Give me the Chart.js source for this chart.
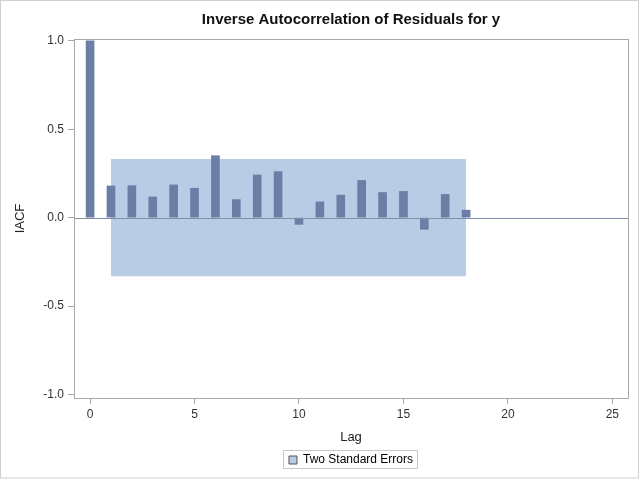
<!DOCTYPE html>
<html>
<head>
<meta charset="utf-8">
<script src="https://cdn.jsdelivr.net/npm/chart.js@4"></script>
<style>
  html, body { margin: 0; padding: 0; background: #fff; }
  #wrap { width: 640px; height: 480px; }
</style>
</head>
<body>
<div id="wrap"><canvas id="iacf-chart" width="640" height="480"></canvas></div>
<script>
// values
var lags = [0, 1, 2, 3, 4, 5, 6, 7, 8, 9, 10, 11, 12, 13, 14, 15, 16, 17, 18];
var iacf = [1.0, 0.179, 0.181, 0.117, 0.185, 0.166, 0.350, 0.102, 0.241, 0.260,
            -0.038, 0.089, 0.127, 0.210, 0.142, 0.148, -0.066, 0.131, 0.042];
var seLags = [1, 18];
var seUpper = [0.332, 0.332];
var seLower = [-0.332, -0.332];
var xTicks = [0, 5, 10, 15, 20, 25];
var yTicks = [-1.0, -0.5, 0.0, 0.5, 1.0];

var font = "'Liberation Sans', Arial, sans-serif";
var barColor = "#6a7ea6";
var bandColor = "#b8cce6";
var frameColor = "#a8a8a8";

var framePlugin = {
  id: 'frame',
  afterDatasetsDraw: function (chart) {
    var ctx = chart.ctx, a = chart.chartArea;
    var y0 = Math.round(chart.scales.y.getPixelForValue(0)) + 0.5;
    ctx.save();
    ctx.strokeStyle = "#8090aa";
    ctx.lineWidth = 1;
    ctx.beginPath();
    ctx.moveTo(a.left, y0);
    ctx.lineTo(a.right, y0);
    ctx.stroke();
    ctx.restore();
  },
  afterDraw: function (chart) {
    var ctx = chart.ctx, a = chart.chartArea;
    ctx.save();
    ctx.lineWidth = 1;
    ctx.strokeStyle = frameColor;
    ctx.strokeRect(Math.round(a.left) + 0.5, Math.round(a.top) + 0.5,
                   Math.round(a.right - a.left), Math.round(a.bottom - a.top));
    // legend border
    var lg = chart.legend;
    if (lg && lg.legendHitBoxes && lg.legendHitBoxes.length) {
      var hb = lg.legendHitBoxes[0];
      ctx.strokeStyle = "#c8c8c8";
      ctx.strokeRect(Math.round(hb.left) - 5.5, Math.round(hb.top) - 3.5,
                     Math.round(hb.width) + 10, Math.round(hb.height) + 6);
    }
    // outer border
    ctx.strokeStyle = "#d0d0d0";
    ctx.strokeRect(0.5, 0.5, 638, 477.5);
    ctx.restore();
  }
};

var ctxEl = document.getElementById("iacf-chart");
var iacfChart = new Chart(ctxEl, {
  type: 'bar',
  data: {
    datasets: [
      {
        type: 'bar',
        label: 'IACF',
        data: lags.map(function (l, i) { return { x: l, y: iacf[i] }; }),
        backgroundColor: barColor,
        borderWidth: 0,
        barThickness: 8,
        order: 1
      },
      {
        type: 'line',
        label: 'Two Standard Errors',
        data: seLags.map(function (l, i) { return { x: l, y: seUpper[i] }; }),
        backgroundColor: bandColor,
        borderWidth: 0,
        pointRadius: 0,
        fill: '+1',
        order: 2
      },
      {
        type: 'line',
        label: 'lower',
        data: seLags.map(function (l, i) { return { x: l, y: seLower[i] }; }),
        backgroundColor: bandColor,
        borderWidth: 0,
        pointRadius: 0,
        fill: false,
        order: 3
      }
    ]
  },
  options: {
    responsive: false,
    animation: false,
    layout: { padding: { left: 0, right: 12, top: 0, bottom: 4 } },
    scales: {
      x: {
        type: 'linear',
        min: -0.77,
        max: 25.75,
        offset: false,
        afterBuildTicks: function (s) { s.ticks = xTicks.map(function (v) { return { value: v }; }); },
        afterFit: function (s) { s.height = 48; },
        grid: { offset: false, drawOnChartArea: false, drawTicks: true, tickLength: 6, color: frameColor },
        border: { display: false },
        ticks: { font: { family: font, size: 12 }, color: "#333", padding: 3, maxRotation: 0 },
        title: { display: true, text: 'Lag', font: { family: font, size: 13 }, color: "#222", padding: { top: 0, bottom: 1 } }
      },
      y: {
        min: -1.02,
        max: 1.01,
        afterBuildTicks: function (s) { s.ticks = yTicks.map(function (v) { return { value: v }; }); },
        afterFit: function (s) { s.width = 74; },
        grid: { drawOnChartArea: false, drawTicks: true, tickLength: 6, color: frameColor },
        border: { display: false },
        ticks: {
          font: { family: font, size: 12 }, color: "#333", padding: 4,
          callback: function (v) { return v.toFixed(1); }
        },
        title: { display: true, text: 'IACF', font: { family: font, size: 13 }, color: "#222", padding: { top: 13, bottom: 0 } }
      }
    },
    plugins: {
      title: {
        display: true,
        text: 'Inverse Autocorrelation of Residuals for y',
        fullSize: false,
        font: { family: font, size: 15, weight: 'bold' },
        color: "#111",
        padding: { top: 11, bottom: 10 }
      },
      legend: {
        display: true,
        position: 'bottom',
        fullSize: false,
        labels: {
          font: { family: font, size: 12 },
          color: "#222",
          padding: 8,
          boxWidth: 8,
          boxHeight: 8,
          generateLabels: function () {
            return [{
              text: 'Two Standard Errors',
              fillStyle: bandColor,
              strokeStyle: "#555",
              lineWidth: 1,
              datasetIndex: 1
            }];
          }
        }
      },
      tooltip: { enabled: false }
    }
  },
  plugins: [framePlugin]
});
</script>
</body>
</html>
